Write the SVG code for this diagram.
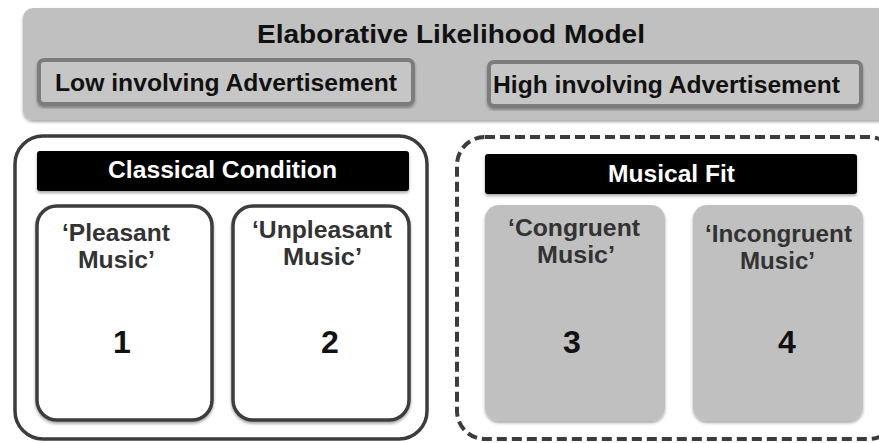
<svg xmlns="http://www.w3.org/2000/svg" width="879" height="443" viewBox="0 0 879 443">
  <defs>
    <filter id="sh" x="-5%" y="-5%" width="110%" height="115%">
      <feGaussianBlur in="SourceAlpha" stdDeviation="1.5"/>
      <feOffset dx="0" dy="2" result="b"/>
      <feComponentTransfer><feFuncA type="linear" slope="0.35"/></feComponentTransfer>
      <feMerge><feMergeNode/><feMergeNode in="SourceGraphic"/></feMerge>
    </filter>
    <style>
      text { font-family: "Liberation Sans", Arial, sans-serif; font-weight: bold; text-anchor: middle; }
      .lbl { fill: #333333; font-size: 23px; }
      .num { fill: #111111; font-size: 32px; }
      .bar { fill: #000000; }
      .bartxt { fill: #ffffff; font-size: 23px; }
      .sub { fill: #c6c6c6; stroke: #7b7b7b; stroke-width: 4; }
      .subtxt { fill: #111111; font-size: 23px; }
      .cell { fill: #ffffff; stroke: #3c3c3c; stroke-width: 3.5; }
      .gcell { fill: #c0c0c0; }
    </style>
  </defs>
  <rect width="879" height="443" fill="#ffffff"/>

  <g id="elm">
    <rect x="23" y="8" width="872" height="112" rx="10" fill="#c0c0c0" filter="url(#sh)"/>
    <text x="451" y="43" font-size="26" fill="#111111" textLength="388" lengthAdjust="spacingAndGlyphs">Elaborative Likelihood Model</text>
  </g>

  <g id="low">
    <rect class="sub" x="39" y="60" width="374" height="44" rx="5" filter="url(#sh)"/>
    <text class="subtxt" x="226" y="91" textLength="342" lengthAdjust="spacingAndGlyphs">Low involving Advertisement</text>
  </g>

  <g id="high">
    <rect class="sub" x="489" y="62" width="372" height="44" rx="5" filter="url(#sh)"/>
    <text class="subtxt" x="666.5" y="93" textLength="347" lengthAdjust="spacingAndGlyphs">High involving Advertisement</text>
  </g>

  <g id="classical">
    <rect x="15" y="136" width="412" height="303" rx="28" fill="#ffffff" stroke="#3c3c3c" stroke-width="3.5"/>
    <rect class="bar" x="37" y="151" width="372" height="40" rx="3" filter="url(#sh)"/>
    <text class="bartxt" x="222.5" y="178" textLength="229" lengthAdjust="spacingAndGlyphs">Classical Condition</text>
  </g>

  <g id="pleasant">
    <rect class="cell" x="37" y="206" width="175" height="214" rx="20" filter="url(#sh)"/>
    <text class="lbl" x="116" y="241" textLength="108" lengthAdjust="spacingAndGlyphs">‘Pleasant</text>
    <text class="lbl" x="116.5" y="268" textLength="77" lengthAdjust="spacingAndGlyphs">Music’</text>
    <text class="num" x="122" y="353">1</text>
  </g>

  <g id="unpleasant">
    <rect class="cell" x="233" y="206" width="176" height="214" rx="20" filter="url(#sh)"/>
    <text class="lbl" x="322" y="238" textLength="140" lengthAdjust="spacingAndGlyphs">‘Unpleasant</text>
    <text class="lbl" x="322.5" y="265" textLength="79" lengthAdjust="spacingAndGlyphs">Music’</text>
    <text class="num" x="330" y="353">2</text>
  </g>

  <g id="musicalfit">
    <rect x="457" y="137" width="440" height="302" rx="28" fill="none" stroke="#3c3c3c" stroke-width="4" stroke-dasharray="10 5"/>
    <rect class="bar" x="485" y="154" width="372" height="40" rx="3" filter="url(#sh)"/>
    <text class="bartxt" x="671.5" y="182" textLength="127" lengthAdjust="spacingAndGlyphs">Musical Fit</text>
  </g>

  <g id="congruent">
    <rect class="gcell" x="485" y="205" width="180" height="216" rx="14" filter="url(#sh)"/>
    <text class="lbl" x="574" y="236" textLength="132" lengthAdjust="spacingAndGlyphs">‘Congruent</text>
    <text class="lbl" x="576" y="263" textLength="78" lengthAdjust="spacingAndGlyphs">Music’</text>
    <text class="num" x="572" y="353">3</text>
  </g>

  <g id="incongruent">
    <rect class="gcell" x="693" y="205" width="170" height="216" rx="14" filter="url(#sh)"/>
    <text class="lbl" x="778.5" y="242" textLength="147" lengthAdjust="spacingAndGlyphs">‘Incongruent</text>
    <text class="lbl" x="777.5" y="269" textLength="75" lengthAdjust="spacingAndGlyphs">Music’</text>
    <text class="num" x="787" y="353">4</text>
  </g>
</svg>
